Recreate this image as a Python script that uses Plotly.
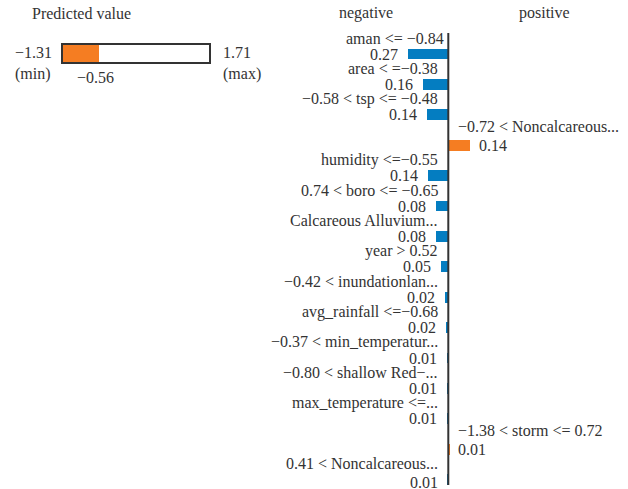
import plotly.graph_objects as go

# ---- data ----
features = [
    "aman <= −0.84",
    "area < =−0.38",
    "−0.58 < tsp <= −0.48",
    "−0.72 < Noncalcareous...",
    "humidity <=−0.55",
    "0.74 < boro <= −0.65",
    "Calcareous Alluvium...",
    "year > 0.52",
    "−0.42 < inundationlan...",
    "avg_rainfall <=−0.68",
    "−0.37 < min_temperatur...",
    "−0.80 < shallow Red−...",
    "max_temperature <=...",
    "−1.38 < storm <= 0.72",
    "0.41 < Noncalcareous...",
]
weights = [-0.272, -0.168, -0.143, 0.145, -0.138, -0.083, -0.083, -0.047,
           -0.020, -0.014, -0.012, -0.012, -0.012, 0.008, -0.004]
weight_labels = ["0.27", "0.16", "0.14", "0.14", "0.14", "0.08", "0.08", "0.05",
                 "0.02", "0.02", "0.01", "0.01", "0.01", "0.01", "0.01"]

pred_min, pred_max, pred_value = -1.31, 1.71, -0.56
pred_min_label, pred_max_label, pred_value_label = "−1.31", "1.71", "−0.56"

NEG = "#047dc1"
POS = "#f57d22"
TXT = "#333333"
FONT = "Liberation Serif"
FS = 16

W, H = 628, 489
AXIS_PX = 448.3
SCALE = 148.0
ROW0, ROWSTEP = 54.0, 30.4

rows = list(range(len(features)))
colors = [NEG if w < 0 else POS for w in weights]


def paper_x(px):
    return px / W


def paper_y(py):
    return 1 - py / H


fig = go.Figure()
fig.add_trace(go.Bar(
    x=weights, y=rows, orientation="h", marker=dict(color=colors, line=dict(width=0)),
    width=0.36, xaxis="x", yaxis="y", hoverinfo="skip", showlegend=False,
))
# predicted value bar
fig.add_trace(go.Bar(
    x=[pred_value - pred_min], base=[pred_min], y=[0], orientation="h",
    marker=dict(color=POS, line=dict(width=0)), width=1.0,
    xaxis="x2", yaxis="y2", hoverinfo="skip", showlegend=False,
))

annotations = []
for i, (f, w, lab) in enumerate(zip(features, weights, weight_labels)):
    last = i == len(features) - 1
    if w < 0:
        annotations.append(dict(x=0, y=i, xref="x", yref="y", text=f, showarrow=False,
                                xanchor="right", yanchor="middle",
                                xshift=-2 if i == 0 else -8, yshift=16))
        annotations.append(dict(x=w, y=i, xref="x", yref="y", text=lab, showarrow=False,
                                xanchor="right", yanchor="middle", xshift=-8,
                                yshift=-3 if last else 0))
    else:
        annotations.append(dict(x=0, y=i, xref="x", yref="y", text=f, showarrow=False,
                                xanchor="left", yanchor="middle", xshift=8, yshift=19))
        annotations.append(dict(x=w, y=i, xref="x", yref="y", text=lab, showarrow=False,
                                xanchor="left", yanchor="middle", xshift=7, yshift=0))

annotations += [
    dict(x=paper_x(30), y=paper_y(13), xref="paper", yref="paper", text="Predicted value",
         xanchor="left", yanchor="middle", showarrow=False),
    dict(x=paper_x(366), y=paper_y(13), xref="paper", yref="paper", text="negative",
         xanchor="center", yanchor="middle", showarrow=False),
    dict(x=paper_x(544), y=paper_y(13), xref="paper", yref="paper", text="positive",
         xanchor="center", yanchor="middle", showarrow=False),
    dict(x=paper_x(13), y=paper_y(53), xref="paper", yref="paper", text=pred_min_label,
         xanchor="left", yanchor="middle", showarrow=False),
    dict(x=paper_x(13), y=paper_y(74), xref="paper", yref="paper", text="(min)",
         xanchor="left", yanchor="middle", showarrow=False),
    dict(x=paper_x(221), y=paper_y(53), xref="paper", yref="paper", text=pred_max_label,
         xanchor="left", yanchor="middle", showarrow=False),
    dict(x=paper_x(221), y=paper_y(74), xref="paper", yref="paper", text="(max)",
         xanchor="left", yanchor="middle", showarrow=False),
    dict(x=pred_value, y=paper_y(77), xref="x2", yref="paper", text=pred_value_label,
         xanchor="center", yanchor="middle", showarrow=False, xshift=-3),
]

shapes = [
    dict(type="line", xref="x", yref="paper", x0=0, x1=0, y0=paper_y(485), y1=paper_y(33),
         line=dict(color=TXT, width=2)),
    dict(type="rect", xref="x2 domain", yref="y2 domain", x0=0, x1=1, y0=0, y1=1,
         line=dict(color=TXT, width=2), layer="above"),
]

fig.update_layout(
    width=W, height=H, margin=dict(l=0, r=0, t=0, b=0),
    paper_bgcolor="white", plot_bgcolor="rgba(0,0,0,0)",
    font=dict(family=FONT, size=FS, color=TXT),
    annotations=annotations, shapes=shapes, bargap=0,
    xaxis=dict(domain=[0, 1], range=[-AXIS_PX / SCALE, (W - AXIS_PX) / SCALE],
               visible=False, fixedrange=True),
    yaxis=dict(domain=[0, 1], range=[(H - ROW0) / ROWSTEP, -ROW0 / ROWSTEP],
               visible=False, fixedrange=True),
    xaxis2=dict(domain=[paper_x(62), paper_x(210)], range=[pred_min, pred_max],
                visible=False, anchor="y2", fixedrange=True),
    yaxis2=dict(domain=[paper_y(63), paper_y(44)], range=[-0.5, 0.5],
                visible=False, anchor="x2", fixedrange=True),
)

fig.write_html(
    "out.html",
    config={"displayModeBar": False},
    post_script="document.body.style.margin='0';document.body.style.overflow='hidden';",
)
